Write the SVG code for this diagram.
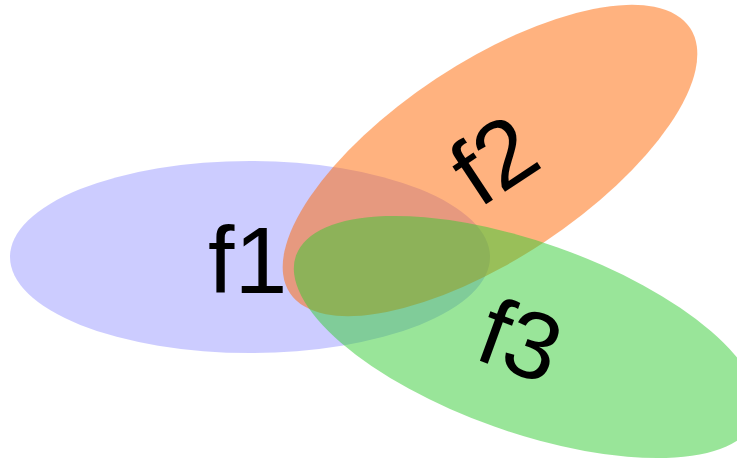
<svg xmlns="http://www.w3.org/2000/svg" width="737" height="461" viewBox="0 0 737 461">
<style>
.lbl{font-family:"Liberation Sans",Arial,sans-serif;font-size:95px;fill:#000}
</style>
<rect width="737" height="461" fill="#fff"/>
<g id="f1"><ellipse cx="250" cy="257" rx="240" ry="96" fill="#0000ff" fill-opacity="0.2"/></g>
<g id="f2"><ellipse cx="0" cy="0" rx="240" ry="98" fill="#ff6600" fill-opacity="0.5" transform="translate(490,160.5) rotate(-33.5)"/></g>
<g id="f3"><ellipse cx="0" cy="0" rx="244" ry="95" fill="#33cc33" fill-opacity="0.5" transform="translate(526,337) rotate(19.5)"/></g>
<g id="labels">
<text class="lbl" x="208" y="293">f1</text>
<text class="lbl" transform="translate(479,209) rotate(-33.5)">f2</text>
<text class="lbl" transform="translate(472,358) rotate(20)">f3</text>
</g>
<g id="connectors"/>
</svg>
